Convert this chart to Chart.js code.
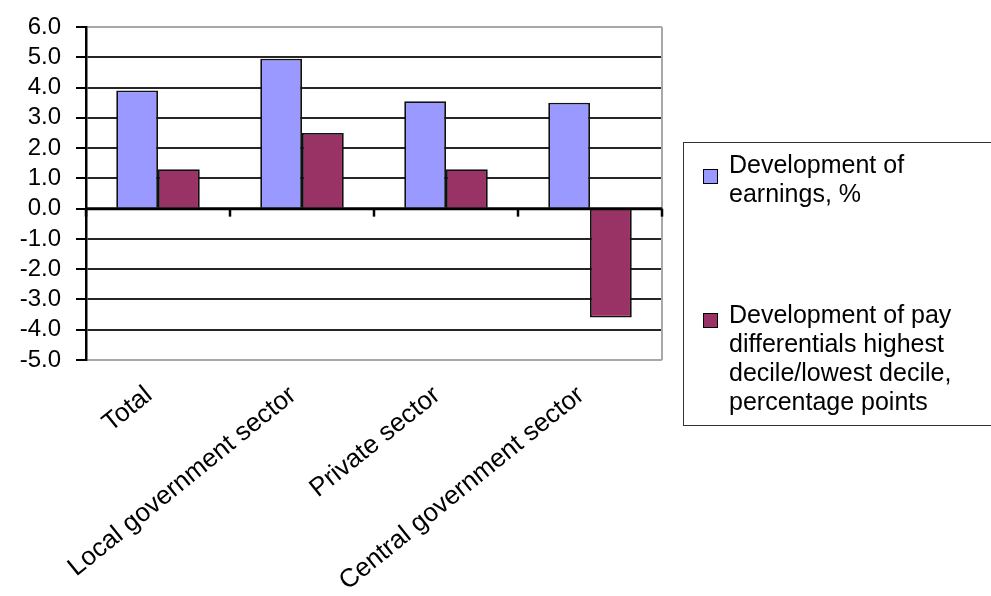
<!DOCTYPE html>
<html>
<head>
<meta charset="utf-8">
<script src="https://cdn.jsdelivr.net/npm/chart.js@4"></script>
<style>
html,body{margin:0;padding:0;background:#fff;overflow:hidden;}
#wrap{position:relative;width:991px;height:596px;}
#legend{position:absolute;left:683px;top:142px;width:330px;height:284px;border:1.5px solid #333;box-sizing:border-box;
font-family:"Liberation Sans",Arial,sans-serif;font-size:25px;line-height:29px;color:#000;}
.item{position:absolute;left:45px;white-space:nowrap;}
.box{position:absolute;left:-26px;width:13px;height:13px;border:1px solid #000;}
</style>
</head>
<body>
<div id="wrap">
<canvas id="c" width="991" height="596"></canvas>
<div id="legend"></div>
</div>
<script>
const categories = ["Total","Local government sector","Private sector","Central government sector"];
const earnings = [3.9, 4.95, 3.55, 3.5];
const payDiff = [1.3, 2.5, 1.3, -3.6];
const seriesLines = [["Development of","earnings, %"],["Development of pay","differentials highest","decile/lowest decile,","percentage points"]];
const seriesColors = ["#9999ff","#993366"];
const yMin = -5, yMax = 6, yStep = 1;

/* os zero z kreskami */
const zeroAxis = {
id:"zeroAxis",
afterDatasetsDraw(chart){
const {ctx, chartArea:a, scales:{x,y}} = chart;
const y0 = y.getPixelForValue(0);
ctx.save();
// prawa ramka
ctx.strokeStyle="#a8a8a8";
ctx.lineWidth=2;
ctx.beginPath();
ctx.moveTo(a.right,a.top);ctx.lineTo(a.right,a.bottom);
ctx.stroke();
ctx.strokeStyle="#000";
ctx.lineWidth=3;
ctx.beginPath();
ctx.moveTo(a.left,y0);ctx.lineTo(a.right,y0);
ctx.stroke();
ctx.lineWidth=2.5;
const half = (x.getPixelForValue(1)-x.getPixelForValue(0))/2;
for(let i=0;i<=categories.length;i++){
const px = x.getPixelForValue(0)-half+i*half*2;
ctx.beginPath();
ctx.moveTo(px,y0);ctx.lineTo(px,y0+8);
ctx.stroke();
}
ctx.restore();
}
};

const chart = new Chart(document.getElementById("c"),{
type:"bar",
data:{
labels:categories,
datasets:[
{label:seriesLines[0].join(" "),data:earnings,backgroundColor:seriesColors[0],borderColor:"#111",borderWidth:1.8},
{label:seriesLines[1].join(" "),data:payDiff,backgroundColor:seriesColors[1],borderColor:"#111",borderWidth:1.8}
]
},
options:{
responsive:false,
animation:false,
categoryPercentage:0.58,
barPercentage:1,
layout:{padding:{top:25,right:329,left:0,bottom:0}},
plugins:{legend:{display:false},tooltip:{enabled:false}},
scales:{
x:{
grid:{display:false},
border:{display:false},
ticks:{color:"#000",font:{family:"Liberation Sans",size:26},minRotation:39,maxRotation:39,padding:12,labelOffset:-9,autoSkip:false},
afterFit(s){s.height=236;}
},
y:{
min:yMin,max:yMax,
ticks:{stepSize:yStep,autoSkip:false,color:"#000",font:{family:"Liberation Sans",size:24,lineHeight:1},padding:15,callback:v=>v.toFixed(1)},
grid:{
color:c=>(c.tick.value===yMax||c.tick.value===yMin)?"#a8a8a8":"#262626",
lineWidth:2,
tickColor:"#000",tickLength:10
},
border:{color:"#000",width:2.5},
afterFit(s){s.width=86;}
}
}
},
plugins:[zeroAxis]
});

/* legenda */
const leg = document.getElementById("legend");
const tops = [7,157];
seriesLines.forEach((lines,i)=>{
const it = document.createElement("div");
it.className="item";
it.style.top=tops[i]+"px";
it.innerHTML=`<span class="box" style="background:${seriesColors[i]};top:${i==0?19:13}px"></span>`+lines.join("<br>");
leg.appendChild(it);
});
</script>
</body>
</html>
